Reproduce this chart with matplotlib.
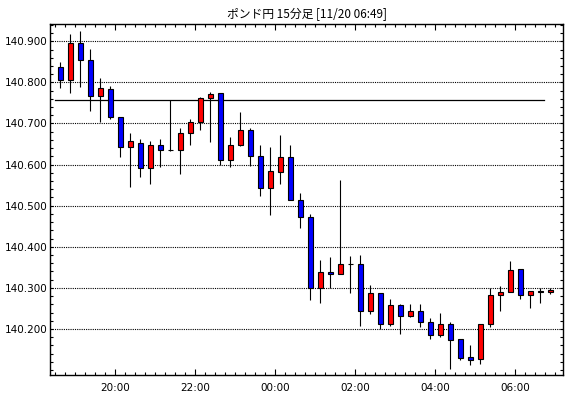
import matplotlib
matplotlib.use("Agg")
import matplotlib.pyplot as plt
from matplotlib.ticker import MultipleLocator, FixedLocator, FixedFormatter
import pandas as pd

plt.rcParams['font.family'] = ['Noto Sans CJK JP', 'DejaVu Sans']

title = "ポンド円 15分足 [11/20 06:49]"
times = pd.date_range("2023-11-19 18:30", "2023-11-20 06:45", freq="15min")
opens = [140.837, 140.807, 140.895, 140.854, 140.766, 140.783, 140.717, 140.644, 140.653, 140.592,
         140.647, 140.636, 140.636, 140.678, 140.703, 140.761, 140.773, 140.610, 140.647, 140.683,
         140.620, 140.542, 140.581, 140.618, 140.515, 140.472, 140.299, 140.338, 140.333, 140.357,
         140.357, 140.245, 140.287, 140.211, 140.258, 140.231, 140.243, 140.216, 140.185, 140.211,
         140.175, 140.133, 140.126, 140.211, 140.282, 140.289, 140.345, 140.282, 140.292, 140.289]
highs = [140.850, 140.918, 140.925, 140.881, 140.811, 140.791, 140.717, 140.676, 140.662, 140.657,
         140.662, 140.756, 140.690, 140.712, 140.764, 140.777, 140.773, 140.667, 140.728, 140.688,
         140.647, 140.642, 140.672, 140.648, 140.532, 140.481, 140.367, 140.374, 140.562, 140.378,
         140.380, 140.307, 140.287, 140.273, 140.260, 140.261, 140.261, 140.226, 140.238, 140.216,
         140.175, 140.161, 140.213, 140.299, 140.305, 140.366, 140.345, 140.292, 140.300, 140.299]
lows = [140.787, 140.773, 140.790, 140.731, 140.704, 140.712, 140.619, 140.545, 140.569, 140.554,
        140.593, 140.632, 140.576, 140.647, 140.683, 140.656, 140.598, 140.595, 140.645, 140.596,
        140.524, 140.478, 140.554, 140.513, 140.446, 140.271, 140.264, 140.299, 140.333, 140.288,
        140.208, 140.237, 140.199, 140.208, 140.189, 140.229, 140.206, 140.176, 140.181, 140.103,
        140.125, 140.113, 140.115, 140.206, 140.245, 140.289, 140.274, 140.250, 140.264, 140.284]
closes = [140.807, 140.897, 140.854, 140.766, 140.786, 140.717, 140.644, 140.657, 140.592, 140.648,
          140.636, 140.636, 140.678, 140.703, 140.761, 140.771, 140.610, 140.647, 140.683, 140.620,
          140.542, 140.584, 140.618, 140.515, 140.472, 140.299, 140.338, 140.333, 140.357, 140.357,
          140.245, 140.287, 140.211, 140.258, 140.231, 140.243, 140.216, 140.185, 140.211, 140.174,
          140.130, 140.125, 140.211, 140.282, 140.289, 140.343, 140.282, 140.292, 140.289, 140.294]
ref_level = 140.756
price_labels = [140.2, 140.3, 140.4, 140.5, 140.6, 140.7, 140.8, 140.9]
tick_labels = ["20:00", "22:00", "00:00", "02:00", "04:00", "06:00"]

start = times[0]
xs = [(t - start).total_seconds() / 900.0 for t in times]

def tpos(label):
    hh, mm = map(int, label.split(":"))
    t = start.normalize() + pd.Timedelta(hours=hh, minutes=mm)
    if t < start:
        t += pd.Timedelta(days=1)
    return (t - start).total_seconds() / 900.0 - 0.5

fig = plt.figure(figsize=(5.7, 3.98), dpi=100)
ax = fig.add_axes([50 / 570, 1 - 374.7 / 398, (563.3 - 50) / 570, (374.7 - 24.4) / 398])

# grid
for v in price_labels:
    ax.axhline(v, color="black", lw=0.8, ls=(0, (1, 1)), zorder=1)

# reference line
ax.plot([xs[0] - 0.53, xs[-1] - 0.6], [ref_level, ref_level], color="black", lw=0.9, zorder=2)

# candles
ax.vlines(xs, lows, highs, color="black", lw=0.8, zorder=3)
for x, o, c in zip(xs, opens, closes):
    col = "#ff0000" if c > o else "#0000ff"
    lo, hi = min(o, c), max(o, c)
    ax.bar(x, hi - lo, bottom=lo, width=0.5, color=col, edgecolor="black", linewidth=0.8, zorder=4)

ax.set_xlim(-1.03, 50.3)
ax.set_ylim(140.0888, 140.9411)

major_x = [tpos(l) for l in tick_labels]
ax.xaxis.set_major_locator(FixedLocator(major_x))
ax.xaxis.set_major_formatter(FixedFormatter(tick_labels))
ax.xaxis.set_minor_locator(FixedLocator([x - 0.5 for x in xs] + [xs[-1] + 0.5]))
ax.yaxis.set_major_locator(FixedLocator(price_labels))
ax.yaxis.set_minor_locator(MultipleLocator(0.02))
ax.yaxis.set_major_formatter(matplotlib.ticker.FuncFormatter(lambda v, p: f"{v:.3f}"))

ax.tick_params(axis="both", which="both", direction="in", top=True, right=True,
               color="black", width=0.8)
ax.tick_params(axis="x", which="major", length=4.0, pad=6, labelsize=7.5)
ax.tick_params(axis="x", which="minor", length=2.2)
ax.tick_params(axis="y", which="major", length=2.2, pad=1.5, labelsize=7.5)
ax.tick_params(axis="y", which="minor", length=2.2)
for lab in ax.get_xticklabels() + ax.get_yticklabels():
    lab.set_fontfamily("DejaVu Sans")

for s in ax.spines.values():
    s.set_linewidth(1.0)
    s.set_color("black")

fig.text((50 + 563.3) / 2 / 570, 1 - 14 / 398, title, ha="center", va="center", fontsize=8.5)

fig.savefig("out.png", dpi=100)
